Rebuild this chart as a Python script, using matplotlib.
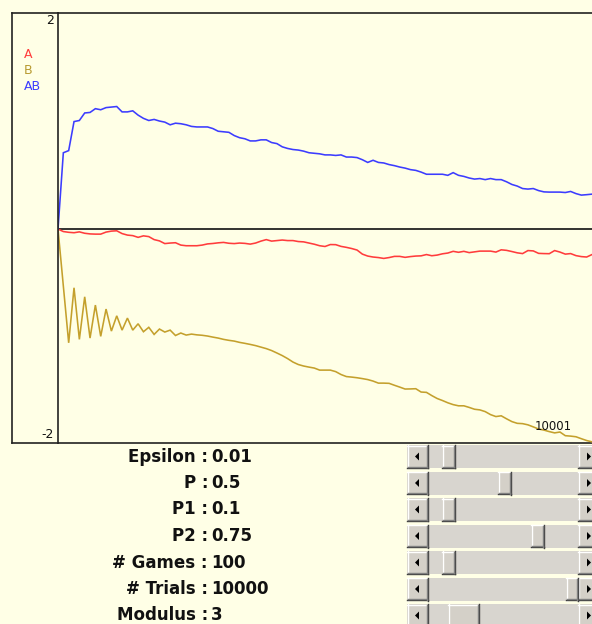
import matplotlib
matplotlib.use("Agg")
import matplotlib.pyplot as plt
from matplotlib.patches import Rectangle, Polygon
from matplotlib.lines import Line2D

# ---------------- data ----------------
games = list(range(101))

series_A = [0.000, -0.023, -0.030, -0.034, -0.026, -0.039, -0.045, -0.047, -0.047, -0.028,
            -0.019, -0.016, -0.042, -0.056, -0.061, -0.077, -0.063, -0.070, -0.098, -0.110,
            -0.135, -0.130, -0.127, -0.149, -0.155, -0.155, -0.155, -0.149, -0.138, -0.134,
            -0.128, -0.124, -0.132, -0.135, -0.130, -0.133, -0.140, -0.130, -0.112, -0.098,
            -0.112, -0.107, -0.102, -0.107, -0.107, -0.116, -0.119, -0.130, -0.141, -0.155,
            -0.162, -0.144, -0.145, -0.161, -0.170, -0.181, -0.195, -0.233, -0.251, -0.260,
            -0.265, -0.273, -0.265, -0.254, -0.254, -0.263, -0.256, -0.251, -0.249, -0.237,
            -0.248, -0.242, -0.230, -0.223, -0.207, -0.216, -0.207, -0.219, -0.212, -0.205,
            -0.205, -0.205, -0.214, -0.193, -0.198, -0.209, -0.221, -0.228, -0.200, -0.203,
            -0.226, -0.228, -0.229, -0.200, -0.214, -0.233, -0.228, -0.247, -0.256, -0.260,
            -0.237]

series_B = [0.000, -0.530, -1.058, -0.546, -1.026, -0.630, -1.014, -0.707, -0.998, -0.744,
            -0.949, -0.807, -0.940, -0.828, -0.940, -0.881, -0.955, -0.914, -0.980, -0.930,
            -0.958, -0.940, -0.990, -0.967, -0.986, -0.977, -0.984, -0.988, -0.995, -1.005,
            -1.014, -1.026, -1.035, -1.042, -1.054, -1.063, -1.073, -1.084, -1.098, -1.112,
            -1.130, -1.153, -1.177, -1.205, -1.237, -1.260, -1.274, -1.284, -1.293, -1.312,
            -1.312, -1.312, -1.326, -1.353, -1.372, -1.377, -1.383, -1.391, -1.400, -1.414,
            -1.433, -1.433, -1.435, -1.453, -1.470, -1.488, -1.487, -1.485, -1.516, -1.519,
            -1.549, -1.576, -1.595, -1.616, -1.633, -1.644, -1.644, -1.659, -1.676, -1.682,
            -1.698, -1.726, -1.744, -1.737, -1.765, -1.791, -1.807, -1.810, -1.821, -1.840,
            -1.860, -1.870, -1.884, -1.896, -1.888, -1.922, -1.926, -1.932, -1.950, -1.967,
            -1.979]

series_AB = [0.000, 0.710, 0.730, 1.000, 1.010, 1.080, 1.085, 1.120, 1.110, 1.130,
             1.135, 1.140, 1.090, 1.090, 1.100, 1.060, 1.030, 1.010, 1.020, 1.005,
             0.995, 0.970, 0.985, 0.980, 0.970, 0.955, 0.950, 0.950, 0.950, 0.935,
             0.910, 0.905, 0.900, 0.870, 0.850, 0.840, 0.820, 0.820, 0.830, 0.830,
             0.805, 0.795, 0.765, 0.750, 0.740, 0.735, 0.725, 0.710, 0.705, 0.700,
             0.690, 0.690, 0.685, 0.690, 0.670, 0.670, 0.665, 0.645, 0.620, 0.640,
             0.620, 0.615, 0.600, 0.590, 0.577, 0.567, 0.553, 0.546, 0.530, 0.510,
             0.510, 0.510, 0.510, 0.500, 0.525, 0.500, 0.490, 0.475, 0.465, 0.470,
             0.460, 0.470, 0.460, 0.460, 0.440, 0.415, 0.400, 0.377, 0.372, 0.377,
             0.358, 0.346, 0.344, 0.344, 0.344, 0.340, 0.350, 0.330, 0.316, 0.320,
             0.325]

series_names = ["A", "B", "AB"]
y_top_label = "2"
y_bottom_label = "-2"
trials_label = "10001"
param_labels = ["Epsilon", "P", "P1", "P2", "# Games", "# Trials", "Modulus"]
param_values = ["0.01", "0.5", "0.1", "0.75", "100", "10000", "3"]

# ---------------- style / layout ----------------
W, H = 592, 624
BG = "#FFFFE6"
COLORS = {"A": "#FF3C3C", "B": "#C4A02C", "AB": "#3C3CFF"}
LEGEND_COLORS = {"A": "#FF3C3C", "B": "#B89A30", "AB": "#3C3CFF"}
FRAME_TOP, FRAME_BOT = 13, 443
FRAME_LEFT, INNER_LEFT, PLOT_RIGHT_PX = 12, 58, 600
LAST_X_PX = 592

def fx(x):
    return x / W

def fh(y):
    return y / H

fig = plt.figure(figsize=(W / 100, H / 100), dpi=100)
fig.patch.set_facecolor(BG)

# main plot axes
ax = fig.add_axes([fx(INNER_LEFT), 1 - fh(FRAME_BOT), fx(PLOT_RIGHT_PX - INNER_LEFT),
                   fh(FRAME_BOT - FRAME_TOP)])
ax.set_facecolor(BG)
for name, vals in zip(series_names, [series_A, series_B, series_AB]):
    ax.plot(games, vals, color=COLORS[name], lw=1.15, solid_joinstyle="miter", zorder=3)
ax.axhline(0, color="#111111", lw=1.2, zorder=2)
xmax = (games[-1] - games[0]) * (PLOT_RIGHT_PX - INNER_LEFT) / (LAST_X_PX - INNER_LEFT)
ax.set_xlim(0, xmax)
ax.set_ylim(-1.99, 2.01)
ax.set_xticks([])
ax.set_yticks([])
for s in ["right", "left"]:
    ax.spines[s].set_visible(False)
for s in ["top", "bottom"]:
    ax.spines[s].set_color("#222222")
    ax.spines[s].set_linewidth(1.2)

# left label panel
ax0 = fig.add_axes([fx(FRAME_LEFT), 1 - fh(FRAME_BOT), fx(INNER_LEFT - FRAME_LEFT),
                    fh(FRAME_BOT - FRAME_TOP)])
ax0.set_facecolor(BG)
ax0.set_xticks([])
ax0.set_yticks([])
for s in ax0.spines.values():
    s.set_color("#222222")
    s.set_linewidth(1.2)

# overlay in pixel coordinates for labels and controls
ov = fig.add_axes([0, 0, 1, 1], zorder=10)
ov.set_xlim(0, W)
ov.set_ylim(H, 0)
ov.axis("off")
ov.patch.set_alpha(0)

ov.text(54, 21, y_top_label, ha="right", va="center", fontsize=9, color="#111111")
ov.text(54, 435, y_bottom_label, ha="right", va="center", fontsize=9, color="#111111")
ov.text(572, 426, trials_label, ha="right", va="center", fontsize=8.5, color="#111111")
for i, name in enumerate(series_names):
    ov.text(24, 55 + 16 * i, name, ha="left", va="center", fontsize=9,
            color=LEGEND_COLORS[name])

# parameter rows
row0, dy = 456.5, 26.5
thumbs = [(442, 455), (498, 511), (442, 455), (531, 544), (442, 455), (566, 578), (448, 479)]
FACE = "#D4D0C8"
TROUGH = "#D8D5CF"

def bevel(x0, y0, x1, y1):
    ov.add_patch(Rectangle((x0, y0), x1 - x0, y1 - y0, facecolor=FACE, edgecolor="none"))
    ov.add_line(Line2D([x0, x1], [y0 + 0.5, y0 + 0.5], color="white", lw=1))
    ov.add_line(Line2D([x0 + 0.5, x0 + 0.5], [y0, y1], color="white", lw=1))
    ov.add_line(Line2D([x0, x1], [y1 - 0.5, y1 - 0.5], color="#404040", lw=1))
    ov.add_line(Line2D([x1 - 0.5, x1 - 0.5], [y0, y1], color="#404040", lw=1))
    ov.add_line(Line2D([x0 + 1, x1 - 1], [y1 - 1.5, y1 - 1.5], color="#808080", lw=1))
    ov.add_line(Line2D([x1 - 1.5, x1 - 1.5], [y0 + 1, y1 - 1], color="#808080", lw=1))

for i, (lab, val) in enumerate(zip(param_labels, param_values)):
    yc = row0 + dy * i
    ov.text(208, yc, f"{lab} :", ha="right", va="center", fontsize=12,
            fontweight="bold", color="#111111")
    ov.text(211, yc, val, ha="left", va="center", fontsize=12,
            fontweight="bold", color="#111111")
    y0, y1 = yc - 11.5, yc + 11.5
    ov.add_patch(Rectangle((428, y0), 150, y1 - y0, facecolor=TROUGH, edgecolor="none"))
    bevel(407, y0, 428, y1)
    bevel(578, y0, 599, y1)
    bevel(thumbs[i][0], y0, thumbs[i][1], y1)
    ov.add_patch(Polygon([(415, yc), (419, yc - 4), (419, yc + 4)], closed=True,
                         facecolor="black", edgecolor="none"))
    ov.add_patch(Polygon([(591, yc), (587, yc - 4), (587, yc + 4)], closed=True,
                         facecolor="black", edgecolor="none"))

fig.savefig("out.png", dpi=100, facecolor=BG)
